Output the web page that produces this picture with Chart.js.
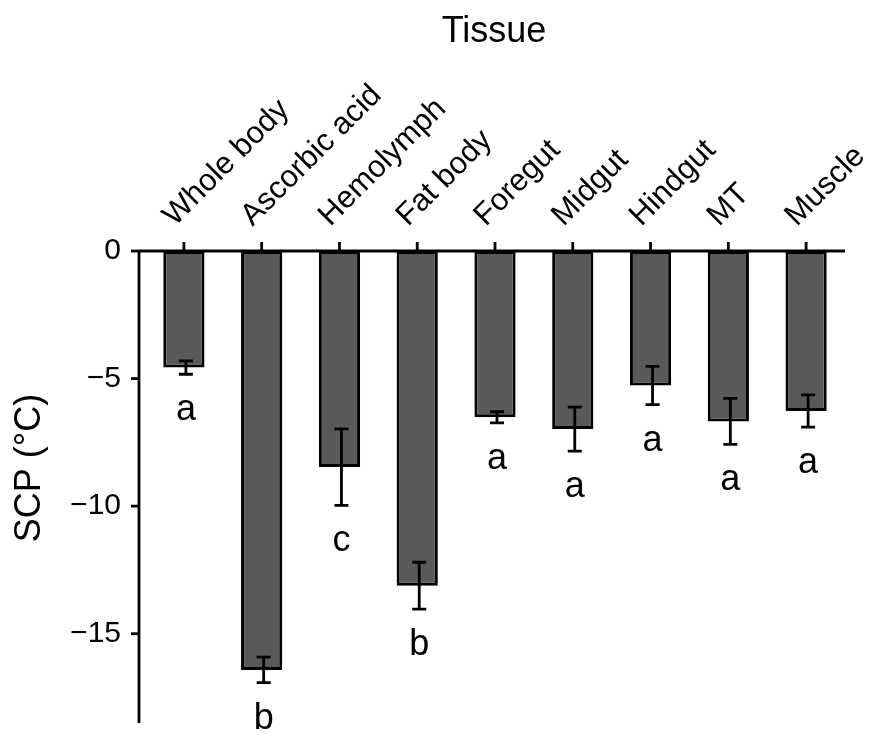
<!DOCTYPE html>
<html>
<head>
<meta charset="utf-8">
<title>SCP by tissue</title>
<script src="https://cdn.jsdelivr.net/npm/chart.js@4.4.0/dist/chart.umd.min.js"></script>
<style>
  html, body { margin: 0; padding: 0; background: #ffffff; }
  #wrap { width: 872px; height: 737px; }
</style>
</head>
<body>
<div id="wrap"><canvas id="scpChart" width="872" height="737"></canvas></div>
<script>
// Data
const tissues = ["Whole body", "Ascorbic acid", "Hemolymph", "Fat body", "Foregut", "Midgut", "Hindgut", "MT", "Muscle"]
const scpMean = [-4.57, -16.42, -8.47, -13.12, -6.52, -6.98, -5.27, -6.68, -6.27]
const scpErr = [0.26, 0.5, 1.5, 0.92, 0.22, 0.86, 0.75, 0.9, 0.63]
const groupLetters = ["a", "b", "c", "b", "a", "a", "a", "a", "a"]
const yTicks = [0, -5, -10, -15]

const FONT = "'Liberation Sans', Arial, sans-serif"

// error bars, letters, axis lines and titles
const extrasPlugin = {
  id: "extras",
  afterDatasetsDraw(chart) {
    const ctx = chart.ctx
    const area = chart.chartArea
    const yScale = chart.scales.y
    const xScale = chart.scales.x
    const meta = chart.getDatasetMeta(0)
    const axisX = area.left - 6

    ctx.save()
    ctx.strokeStyle = "#000"
    ctx.fillStyle = "#000"
    ctx.lineWidth = 2.8
    ctx.lineCap = "butt"

    // error bars
    meta.data.forEach((bar, i) => {
      const x = bar.x + 2
      const yHi = yScale.getPixelForValue(scpMean[i] + scpErr[i])
      const yLo = yScale.getPixelForValue(scpMean[i] - scpErr[i])
      ctx.beginPath()
      ctx.moveTo(x, yHi)
      ctx.lineTo(x, yLo)
      ctx.moveTo(x - 7, yHi)
      ctx.lineTo(x + 7, yHi)
      ctx.moveTo(x - 7, yLo)
      ctx.lineTo(x + 7, yLo)
      ctx.stroke()

      // significance letters
      ctx.font = "36px " + FONT
      ctx.textAlign = "center"
      ctx.textBaseline = "alphabetic"
      ctx.fillText(groupLetters[i], x, yLo + 46)
    })

    // axis lines
    ctx.beginPath()
    ctx.moveTo(axisX, area.top)
    ctx.lineTo(area.right, area.top)
    ctx.moveTo(axisX, area.top)
    ctx.lineTo(axisX, area.bottom)
    ctx.stroke()

    // y tick marks
    yTicks.forEach(v => {
      const y = yScale.getPixelForValue(v)
      ctx.beginPath()
      ctx.moveTo(axisX - 8, y)
      ctx.lineTo(axisX, y)
      ctx.stroke()
    })

    // x tick marks (pointing up)
    tissues.forEach((t, i) => {
      const x = xScale.getPixelForValue(i)
      ctx.beginPath()
      ctx.moveTo(x, area.top)
      ctx.lineTo(x, area.top - 9)
      ctx.stroke()
    })

    // titles
    ctx.font = "36px " + FONT
    ctx.textAlign = "center"
    ctx.textBaseline = "alphabetic"
    ctx.fillText("Tissue", 494, 42)

    ctx.translate(30, 468)
    ctx.rotate(-Math.PI / 2)
    ctx.textBaseline = "middle"
    ctx.fillText("SCP (°C)", 0, 0)
    ctx.restore()
  }
}

function noPadding(scale) {
  scale.paddingLeft = 0
  scale.paddingRight = 0
  scale.paddingTop = 0
  scale.paddingBottom = 0
}

function createScpChart() {
  const ctx = document.getElementById("scpChart").getContext("2d")
  new Chart(ctx, {
    type: "bar",
    data: {
      labels: tissues,
      datasets: [
        {
          label: "SCP",
          data: scpMean,
          backgroundColor: "#595959",
          borderColor: "#000000",
          borderWidth: 3,
          borderSkipped: false,
          barPercentage: 0.53,
          categoryPercentage: 1,
        },
      ],
    },
    options: {
      responsive: false,
      animation: false,
      devicePixelRatio: 1,
      layout: { padding: { left: 0, right: 27, top: 0, bottom: 14 } },
      plugins: {
        legend: { display: false },
        tooltip: { enabled: false },
      },
      scales: {
        x: {
          position: "top",
          offset: true,
          grid: { display: false, drawTicks: false },
          border: { display: false },
          ticks: {
            autoSkip: false,
            minRotation: 45,
            maxRotation: 45,
            padding: 17,
            labelOffset: 11,
            color: "#000",
            font: { size: 31, family: FONT },
          },
          afterFit(scale) {
            scale.height = 251
            noPadding(scale)
          },
        },
        y: {
          min: -18.5,
          max: 0,
          grid: { display: false, drawTicks: false },
          border: { display: false },
          afterBuildTicks(scale) { scale.ticks = yTicks.map(v => ({ value: v })) },
          ticks: {
            padding: 24,
            color: "#000",
            font: { size: 30, family: FONT },
            callback: (v) => (v < 0 ? "\u2212" + Math.abs(v) : String(v)),
          },
          afterFit(scale) {
            scale.width = 145
            noPadding(scale)
          },
        },
      },
    },
    plugins: [extrasPlugin],
  })
}

document.addEventListener("DOMContentLoaded", () => {
  createScpChart()
})
</script>
</body>
</html>
